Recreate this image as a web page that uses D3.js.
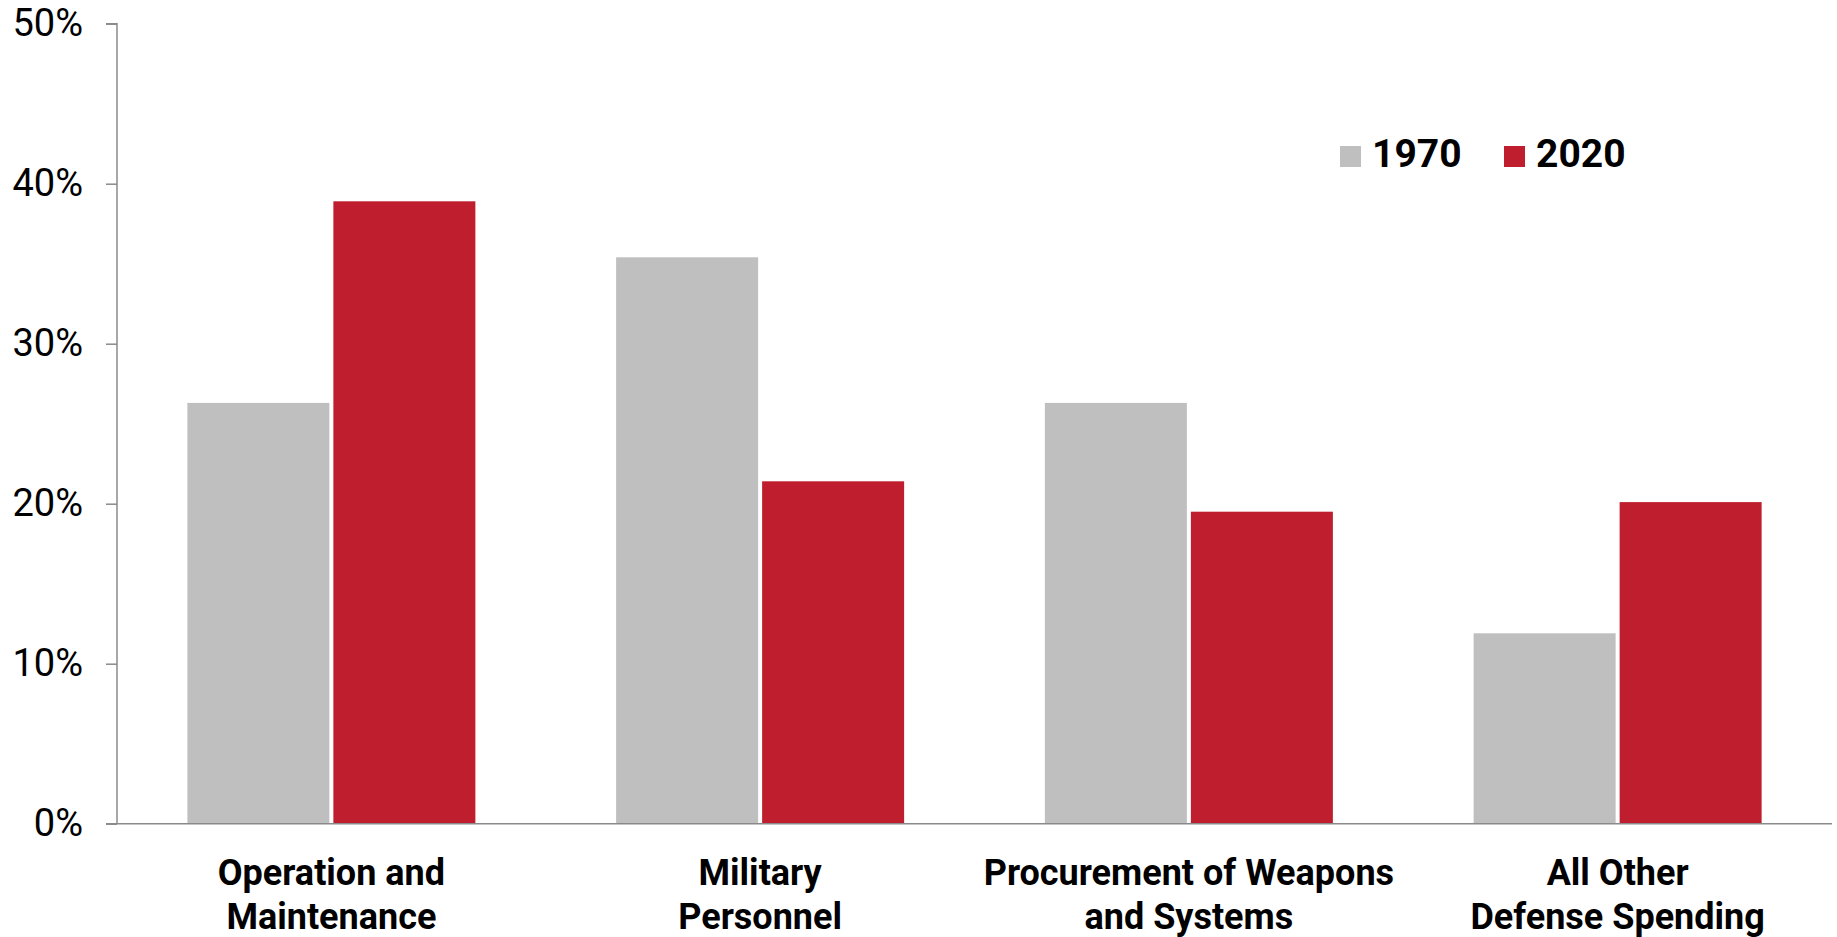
<!DOCTYPE html>
<html>
<head>
<meta charset="utf-8">
<script src="https://cdn.jsdelivr.net/npm/d3@7"></script>
<style>
  body { margin: 0; background: #fff; }
  svg text { font-family: Roboto, "Liberation Sans", sans-serif; }
</style>
</head>
<body>
<div id="chart-area"></div>
<script>

// Data
var categories = ["Operation and|Maintenance", "Military|Personnel", "Procurement of Weapons|and Systems", "All Other|Defense Spending"];
var series = ["1970", "2020"];
var values1970 = [26.3, 35.4, 26.3, 11.9];
var values2020 = [38.9, 21.4, 19.5, 20.1];
var yTicks = [0, 10, 20, 30, 40, 50];

var colors = {"1970": "#bfbfbf", "2020": "#be1e2d"};

var width = 1837, height = 937;

var svg = d3.select("#chart-area").append("svg")
	.attr("width", width)
	.attr("height", height);

// Scales
var x0 = d3.scaleBand()
	.domain(categories)
	.range([117, 1832])
	.padding(0);

var groupW = 288;
var off = (x0.bandwidth() - groupW) / 2;
var x1 = d3.scaleBand()
	.domain(series)
	.range([off, off + groupW])
	.paddingInner(0.0274)
	.paddingOuter(0);

var y = d3.scaleLinear()
	.domain([0, 50])
	.range([823.7, 23.7]);

var data = categories.map(function(c, i){
	return {cat: c, vals: [{k: "1970", v: values1970[i]}, {k: "2020", v: values2020[i]}]};
});

// Bars
var groups = svg.selectAll(".grp").data(data).enter().append("g")
	.attr("class", "grp")
	.attr("transform", function(d){ return "translate(" + x0(d.cat) + ",0)"; });

groups.selectAll("rect").data(function(d){ return d.vals; }).enter().append("rect")
	.attr("x", function(d){ return x1(d.k); })
	.attr("y", function(d){ return y(d.v); })
	.attr("width", x1.bandwidth())
	.attr("height", function(d){ return y(0) - y(d.v); })
	.attr("fill", function(d){ return colors[d.k]; });

// Y axis
var yAxis = d3.axisLeft(y)
	.tickValues(yTicks)
	.tickSize(11)
	.tickPadding(23)
	.tickFormat(function(d){ return d + "%"; });

var yg = svg.append("g")
	.attr("transform", "translate(117,0)")
	.call(yAxis);
yg.select(".domain").attr("stroke", "#8a8a8a").attr("stroke-width", 1.5)
	.attr("d", "M-11," + y(50) + "H0V" + y(0));
yg.selectAll(".tick line").attr("stroke", "#8a8a8a").attr("stroke-width", 1.5);
yg.selectAll(".tick text")
	.attr("font-size", 38)
	.attr("fill", "#000")
	.style("font-family", "Roboto, sans-serif");

// X axis line
svg.append("line")
	.attr("x1", 106).attr("x2", 1832)
	.attr("y1", y(0)).attr("y2", y(0))
	.attr("stroke", "#8a8a8a")
	.attr("stroke-width", 1.5);

// X labels
var xl = svg.selectAll(".xlab").data(categories).enter().append("text")
	.attr("class", "xlab")
	.attr("text-anchor", "middle")
	.attr("font-size", 36)
	.attr("font-weight", "bold")
	.attr("fill", "#000");
xl.each(function(d){
	var t = d3.select(this);
	var cx = x0(d) + x0.bandwidth() / 2;
	d.split("|").forEach(function(line, i){
		t.append("tspan")
			.attr("x", cx)
			.attr("y", 885 + i * 44)
			.text(line);
	});
});

// Legend
var legX = [1340, 1504];
var leg = svg.selectAll(".leg").data(series).enter().append("g")
	.attr("class", "leg")
	.attr("transform", function(d, i){ return "translate(" + legX[i] + ",146)"; });
leg.append("rect")
	.attr("width", 21).attr("height", 21)
	.attr("fill", function(d){ return colors[d]; });
leg.append("text")
	.attr("x", 32)
	.attr("y", 21)
	.attr("font-size", 39)
	.attr("font-weight", "bold")
	.attr("fill", "#000")
	.text(function(d){ return d; });

</script>
</body>
</html>
